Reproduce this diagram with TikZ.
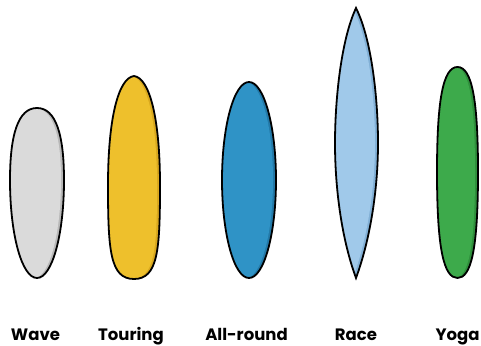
\documentclass[tikz,border=0pt]{standalone}
\usepackage{fontspec}
\setmainfont{Poppins}
\usepackage{xcolor}
\usepackage{tikz}

\definecolor{waveGrey}{HTML}{DADADA}
\definecolor{waveDark}{HTML}{B8B8B8}
\definecolor{touringYellow}{HTML}{EEC02C}
\definecolor{touringDark}{HTML}{D9A81E}
\definecolor{allroundBlue}{HTML}{2F93C6}
\definecolor{allroundDark}{HTML}{2379A8}
\definecolor{raceBlue}{HTML}{A0C9EA}
\definecolor{raceDark}{HTML}{82B0D6}
\definecolor{yogaGreen}{HTML}{3DAA4B}
\definecolor{yogaDark}{HTML}{2F8F3C}

% board with a darker rim on its right side
\newcommand{\drawboard}[3]{%
  \begin{scope}
    \clip #3;
    \fill[#2] #3;
    \fill[#1, xshift=-3pt] #3;
  \end{scope}
  \draw[board edge] #3;
}

\begin{document}
\begin{tikzpicture}[
    x=1pt, y=-1pt,
    board edge/.style={draw=black, line width=1.8pt},
    board name/.style={font=\fontsize{16.5}{19}\selectfont\bfseries, anchor=base}
]
    \useasboundingbox[fill=white] (0,0) rectangle (481,345);

    % the five boards
    \drawboard{waveGrey}{waveDark}{(37,108) .. controls (56,108) and (64,135) .. (64,180) .. controls (64,235) and (52,278) .. (37,278) .. controls (22,278) and (10,235) .. (10,180) .. controls (10,135) and (18,108) .. (37,108) -- cycle}
    \drawboard{touringYellow}{touringDark}{(134,76) .. controls (150,78) and (160,120) .. (160,185) .. controls (160,250) and (158,279) .. (134,279) .. controls (110,279) and (108,250) .. (108,185) .. controls (108,120) and (118,78) .. (134,76) -- cycle}
    \drawboard{allroundBlue}{allroundDark}{(249,180) ellipse [x radius=27, y radius=98]}
    \drawboard{raceBlue}{raceDark}{(356,8) .. controls (372,40) and (378,100) .. (378,143) .. controls (378,190) and (370,240) .. (356,278) .. controls (342,240) and (335,190) .. (335,143) .. controls (335,100) and (341,40) .. (356,8) -- cycle}
    \drawboard{yogaGreen}{yogaDark}{(457.5,67) .. controls (472,67) and (478,100) .. (478,172) .. controls (478,250) and (471,278) .. (457.5,278) .. controls (444,278) and (437,250) .. (437,172) .. controls (437,100) and (443,67) .. (457.5,67) -- cycle}

    % names
    \node[board name] (wave) at (35.5,340) {Wave};
    \node[board name] (touring) at (131,340) {Touring};
    \node[board name] (allround) at (246.5,340) {All-round};
    \node[board name] (race) at (356,340) {Race};
    \node[board name] (yoga) at (457.5,340) {Yoga};
\end{tikzpicture}
\end{document}
